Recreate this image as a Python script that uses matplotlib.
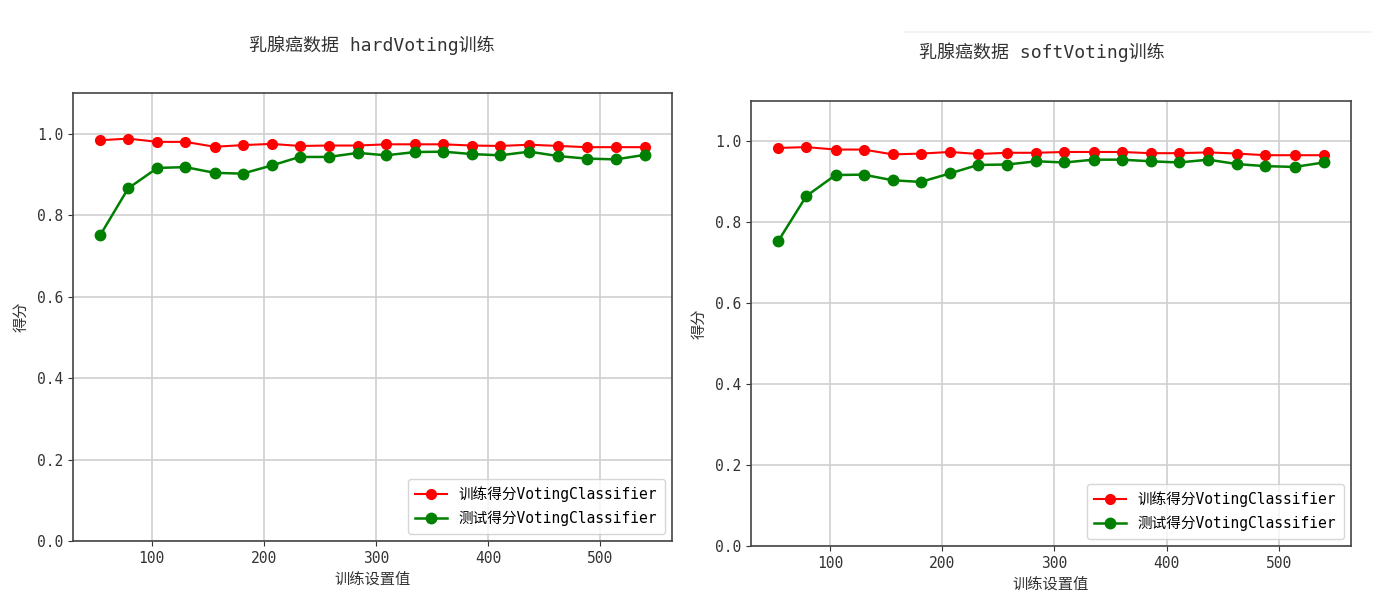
import matplotlib
matplotlib.use("Agg")
import matplotlib.pyplot as plt
from matplotlib.lines import Line2D

plt.rcParams['font.family'] = ['DejaVu Sans Mono', 'Noto Sans CJK SC']
plt.rcParams['axes.unicode_minus'] = False

train_sizes = [54, 79, 105, 130, 156, 181, 207, 232, 258, 284,
               309, 335, 360, 386, 411, 437, 463, 488, 514, 540]

hard_train = [0.984, 0.988, 0.980, 0.980, 0.968, 0.972, 0.975, 0.970, 0.971, 0.971,
              0.974, 0.974, 0.974, 0.971, 0.970, 0.973, 0.970, 0.967, 0.967, 0.967]
hard_test = [0.751, 0.866, 0.916, 0.918, 0.904, 0.902, 0.922, 0.943, 0.943, 0.953,
             0.947, 0.955, 0.956, 0.950, 0.947, 0.956, 0.945, 0.939, 0.937, 0.948]

soft_train = [0.984, 0.986, 0.980, 0.980, 0.968, 0.970, 0.974, 0.969, 0.972, 0.972,
              0.974, 0.974, 0.974, 0.971, 0.971, 0.973, 0.970, 0.966, 0.966, 0.966]
soft_test = [0.754, 0.865, 0.917, 0.918, 0.904, 0.900, 0.921, 0.942, 0.943, 0.951,
             0.948, 0.955, 0.955, 0.951, 0.948, 0.955, 0.944, 0.939, 0.937, 0.948]

titles = ['乳腺癌数据 hardVoting训练', '乳腺癌数据 softVoting训练']
train_label = '训练得分VotingClassifier'
test_label = '测试得分VotingClassifier'
xlabel = '训练设置值'
ylabel = '得分'
yticks = [0.0, 0.2, 0.4, 0.6, 0.8, 1.0]

fig = plt.figure(figsize=(14, 5.97), dpi=100)
ax1 = fig.add_axes([73/1400, 56/597, 599/1400, 448/597])
ax2 = fig.add_axes([751/1400, 51/597, 600/1400, 445/597])

panels = [(ax1, hard_train, hard_test, titles[0], (372/1400, 1 - 45/597)),
          (ax2, soft_train, soft_test, titles[1], (1042/1400, 1 - 52/597))]

for ax, tr, te, title, tpos in panels:
    ax.plot(train_sizes, tr, 'o-', color='r', lw=1.5, ms=7, label=train_label)
    ax.plot(train_sizes, te, 'o-', color='g', lw=1.8, ms=7.5, label=test_label)
    ax.set_ylim(0, 1.1)
    ax.set_yticks(yticks)
    ax.set_yticklabels([f'{v:.1f}' for v in yticks])
    ax.grid(True, color='#cfcfcf', lw=1.2)
    ax.set_axisbelow(True)
    ax.tick_params(labelsize=10.5, colors='#333333', length=3.5)
    ax.set_xlabel(xlabel, fontsize=11, color='#333333', labelpad=4)
    ax.set_ylabel(ylabel, fontsize=11, color='#333333', labelpad=6)
    for sp in ax.spines.values():
        sp.set_color('#444444')
        sp.set_linewidth(1.2)
    ax.legend(loc='lower right', fontsize=10.5, framealpha=0.8,
              borderpad=0.5, labelspacing=0.6, handlelength=2.2)
    fig.text(tpos[0], tpos[1], title, ha='center', va='center',
             fontsize=13, color='#333333')

fig.add_artist(Line2D([905/1400, 1370/1400], [1 - 32/597, 1 - 32/597],
                      color='#f0f0f0', lw=1.2))

fig.savefig('out.png', dpi=100)
